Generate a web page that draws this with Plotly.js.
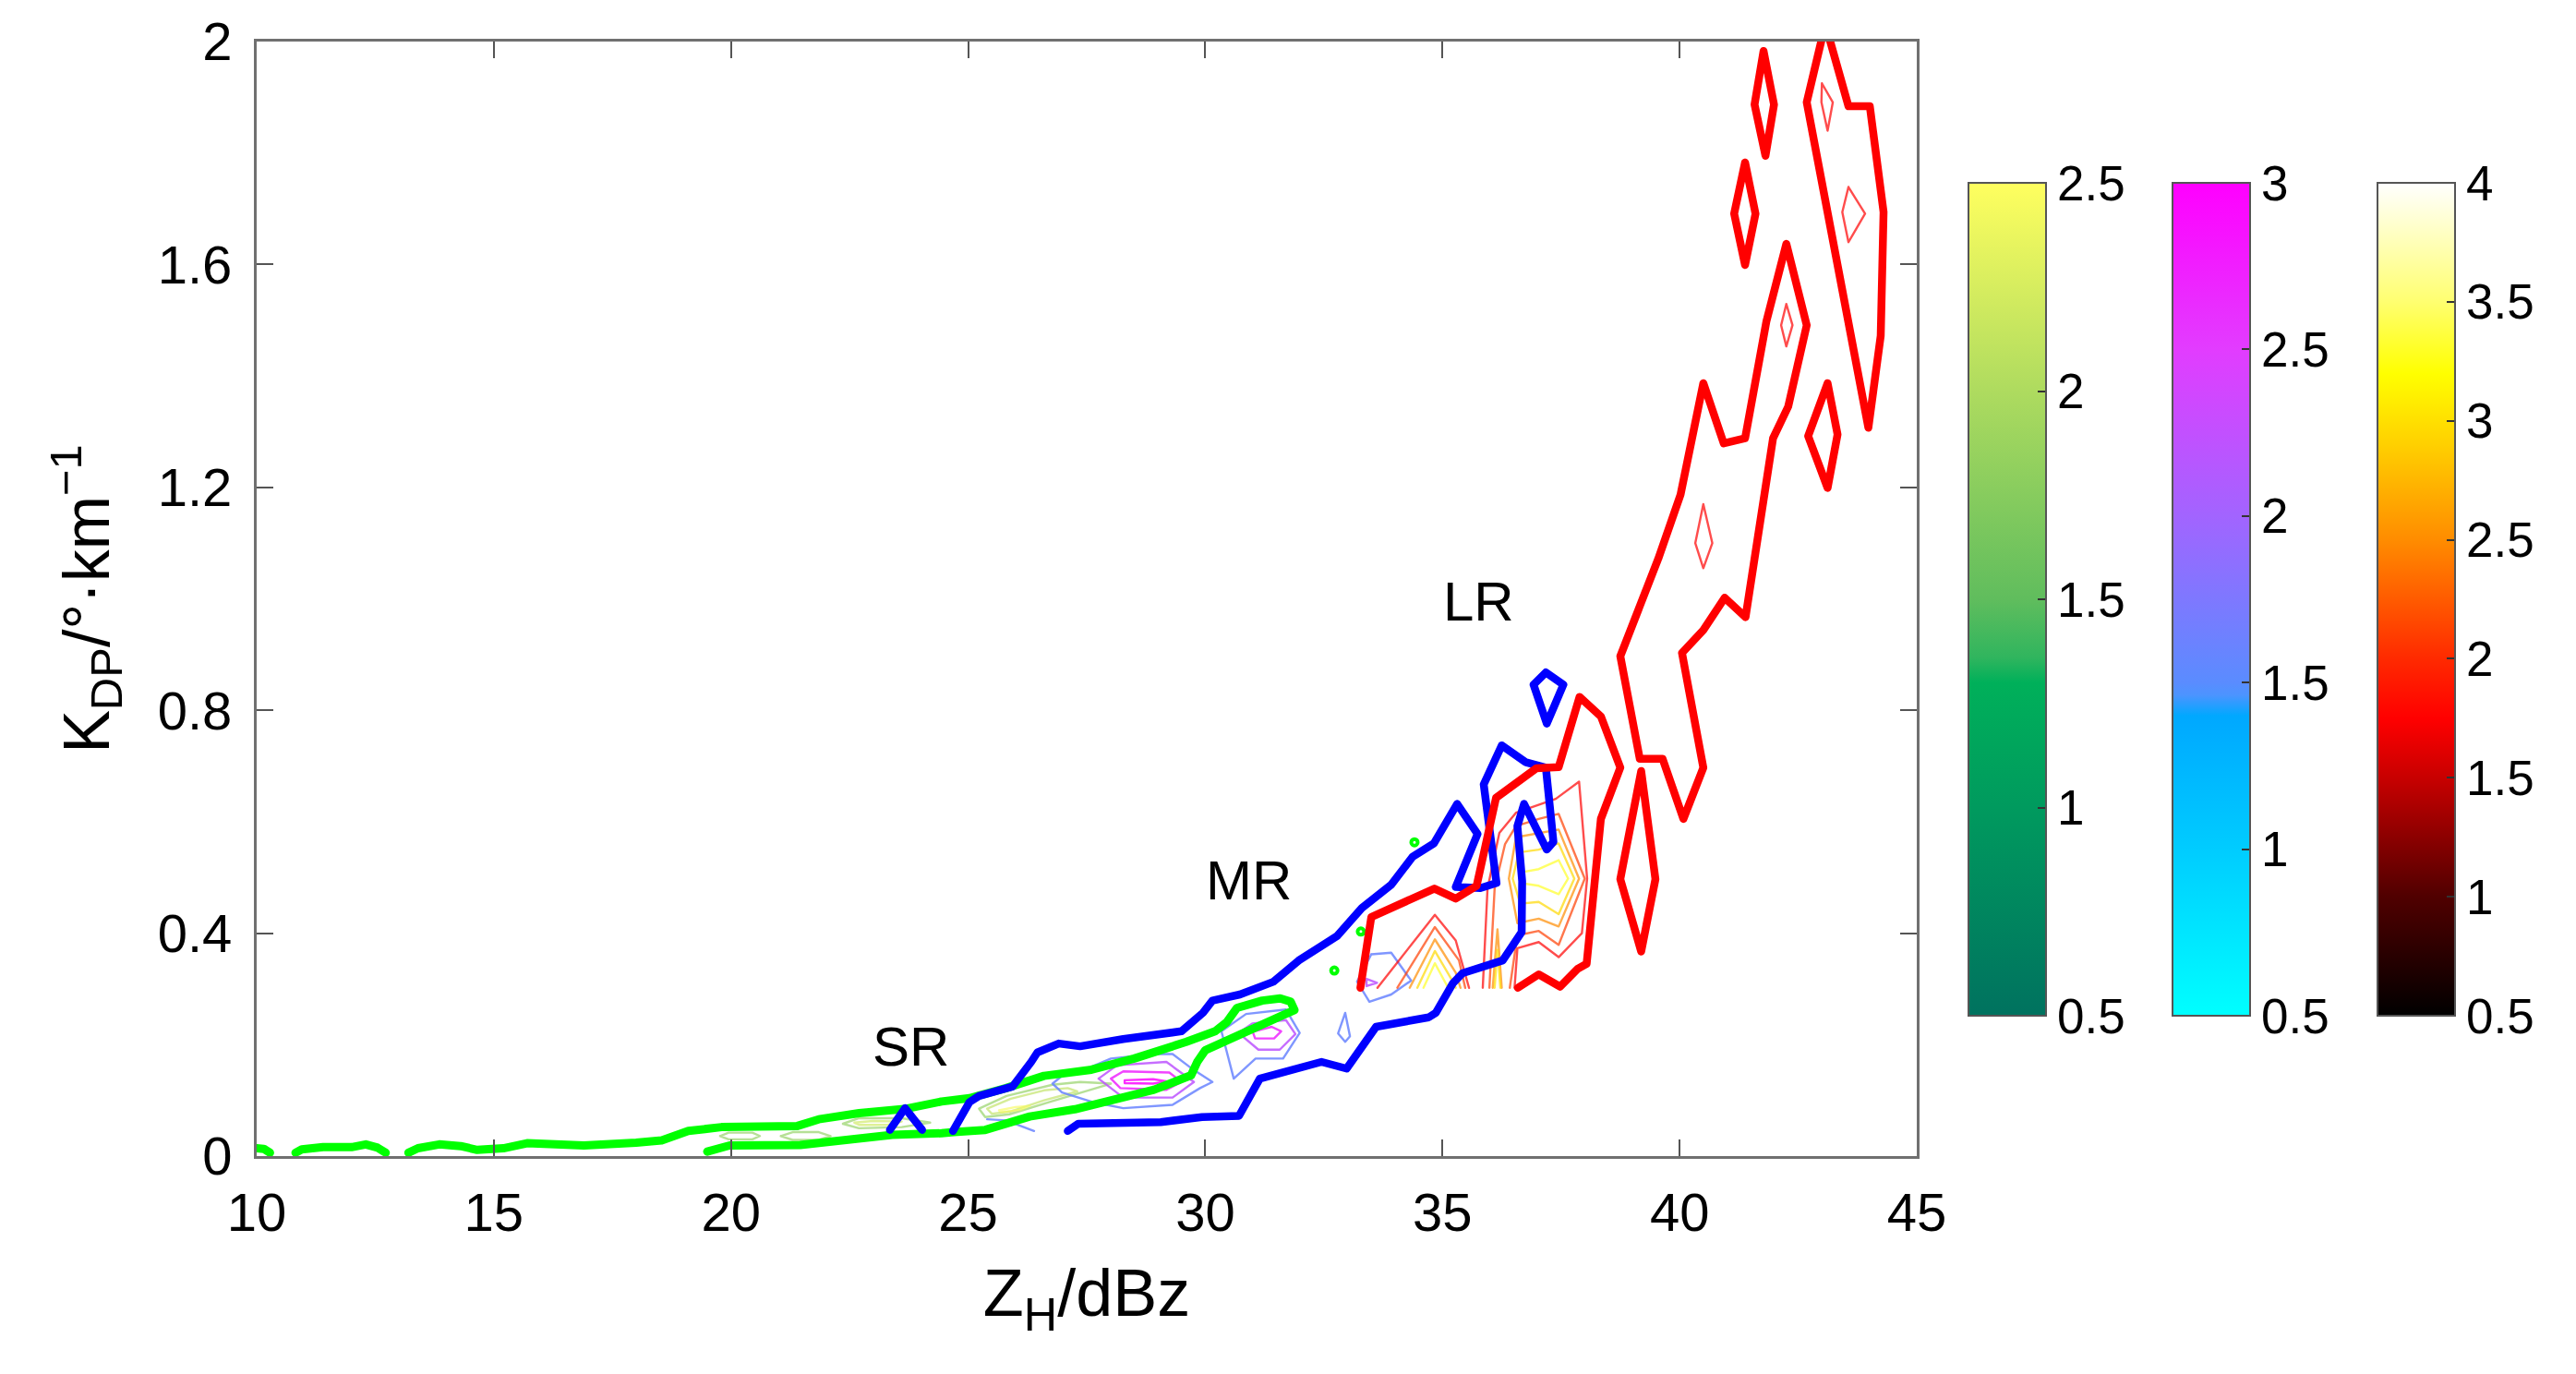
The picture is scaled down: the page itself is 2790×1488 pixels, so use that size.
<!DOCTYPE html>
<html>
<head>
<meta charset="utf-8">
<script src="https://cdn.plot.ly/plotly-3.0.1.min.js"></script>
<style>
html,body{margin:0;padding:0;background:#fff}
#chart{width:2790px;height:1488px}
#chart .js-line{stroke-linejoin:round;stroke-linecap:round}
</style>
</head>
<body>
<div id="chart"></div>
<script>
// ---------------- axes / ticks ----------------
const xTicks = [10, 15, 20, 25, 30, 35, 40, 45];
const yTicks = [0, 0.4, 0.8, 1.2, 1.6, 2];
const xRange = [10, 45];
const yRange = [0, 2];

// ---------------- colour bars ----------------
const cbSRTicks = [0.5, 1, 1.5, 2, 2.5];
const cbMRTicks = [0.5, 1, 1.5, 2, 2.5, 3];
const cbLRTicks = [0.5, 1, 1.5, 2, 2.5, 3, 3.5, 4];
const cbSRScale = [[0, '#00725f'], [0.25, '#009a5e'], [0.4, '#00b05a'], [0.43, '#30b55e'], [0.5, '#60bd5d'], [0.75, '#aedb5f'], [1, '#ffff5f']];
const cbMRScale = [[0, '#00ffff'], [0.2, '#00ccff'], [0.36, '#00a8ff'], [0.385, '#4c94ff'], [0.4, '#5a8cff'], [0.6, '#a264ff'], [0.8, '#e23cff'], [1, '#ff00ff']];
const cbLRScale = [[0, '#000000'], [0.143, '#500000'], [0.286, '#c80000'], [0.357, '#ff0000'], [0.429, '#ff2a00'], [0.571, '#ff8c00'], [0.686, '#ffd000'], [0.771, '#ffff00'], [0.857, '#ffff70'], [1, '#ffffff']];

// ---------------- SR (green) outer contour ----------------
const srOuter = [
  [10.0,0.014],[10.15,0.013],[10.28,0.006], null,
  [10.82,0.006],[10.95,0.012],[11.4,0.016],[12.0,0.016],[12.3,0.021],[12.55,0.015],[12.72,0.006], null,
  [13.2,0.006],[13.4,0.014],[13.85,0.021],[14.3,0.018],[14.65,0.011],[15.2,0.014],[15.7,0.023],[16.9,0.019],
  [18.0,0.024],[18.54,0.028],[19.1,0.045],[19.8,0.052],[21.4,0.054],[21.85,0.066],[22.7,0.077],[23.7,0.085],
  [24.44,0.098],[25.03,0.104],[25.8,0.122],[26.6,0.144],[27.6,0.155],[28.5,0.175],[29.6,0.205],[30.21,0.224],
  [30.45,0.24],[30.67,0.266],[31.2,0.279],[31.58,0.283],[31.8,0.277],[31.88,0.262],[31.67,0.254],[31.18,0.235],
  [30.73,0.219],[30.0,0.19],[29.83,0.169],[29.7,0.145],[28.92,0.119],[28.3,0.106],[27.25,0.084],[26.3,0.071],
  [25.5,0.053],[25.36,0.047],[24.7,0.043],[24.44,0.041],[23.4,0.038],[22.69,0.031],[22.1,0.023],[21.46,0.02],
  [19.97,0.019],[19.5,0.008]
];
const srDotsX = [32.72, 33.28, 34.41];
const srDotsY = [0.333, 0.403, 0.563];

// SR inner contours (green colour map)
const srS1 = [[19.77,0.036],[19.95,0.042],[20.45,0.042],[20.61,0.036],[20.45,0.030],[19.95,0.030],[19.77,0.036]];
const srS2 = [[21.05,0.036],[21.3,0.043],[21.85,0.043],[22.1,0.036],[21.85,0.029],[21.3,0.029],[21.05,0.036]];
const srS3 = [[22.36,0.058],[22.7,0.068],[23.6,0.068],[24.2,0.06],[23.6,0.052],[22.7,0.05],[22.36,0.058]];
const srS3b = [[22.6,0.06],[23.0,0.063],[23.6,0.062],[23.3,0.056],[22.7,0.056],[22.6,0.06]];
const srS4a = [[25.23,0.085],[25.81,0.108],[26.78,0.128],[27.36,0.133],[28.01,0.130],[27.49,0.117],[26.72,0.097],[25.87,0.075],[25.36,0.07],[25.23,0.085]];
const srS4b = [[25.4,0.085],[25.9,0.103],[26.6,0.118],[27.1,0.122],[27.3,0.116],[26.6,0.1],[25.9,0.08],[25.5,0.076],[25.4,0.085]];
const srS4c = [[25.65,0.082],[26.0,0.088],[26.3,0.09],[26.1,0.083],[25.7,0.079],[25.65,0.082]];
const srThinShapes = [srS1, srS2, srS3, srS3b, srS4a, srS4b, srS4c];
const srThinLevels = [1.8, 1.8, 1.8, 2.2, 1.8, 2.1, 2.45];

// ---------------- MR (blue) outer contour ----------------
const mrOuter = [
  [24.68,0.045],[25.03,0.097],[25.23,0.108],[25.94,0.125],[26.33,0.169],[26.46,0.186],[26.91,0.202],[27.36,0.197],
  [28.27,0.21],[28.85,0.216],[29.5,0.224],[29.95,0.257],[30.15,0.279],[30.73,0.29],[31.44,0.313],[31.97,0.351],
  [32.78,0.395],[33.3,0.445],[33.92,0.487],[34.37,0.537],[34.82,0.561],[35.31,0.632],[35.74,0.578],[35.28,0.483],
  [35.8,0.481],[36.14,0.49],[35.87,0.667],[36.25,0.737],[36.75,0.707],[37.18,0.697],[37.25,0.65],[37.34,0.564],
  [37.2,0.55],[36.72,0.632],[36.58,0.592],[36.68,0.493],[36.67,0.402],[36.27,0.351],[35.42,0.328],[35.22,0.31],
  [34.86,0.257],[34.71,0.249],[33.6,0.232],[33.49,0.219],[32.98,0.157],[32.45,0.169],[31.15,0.139],[30.71,0.072],
  [29.93,0.07],[29.06,0.061],[28.19,0.061],[27.32,0.058],[27.1,0.045]
];
const mrCaret = [[23.35,0.047],[23.67,0.086],[24.03,0.047]];
const mrDiamond = [[36.92,0.846],[37.18,0.868],[37.55,0.846],[37.2,0.776],[36.92,0.846]];

// MR inner contours (cyan-magenta colour map)
const mrB1 = [[26.78,0.130],[26.98,0.144],[27.62,0.161],[28.01,0.175],[28.92,0.183],[29.31,0.183],[29.7,0.158],[30.15,0.133],[29.89,0.122],[29.31,0.092],[28.27,0.086],[27.62,0.097],[26.98,0.114],[26.78,0.130]];
const mrP1 = [[27.75,0.139],[28.14,0.163],[29.18,0.169],[29.76,0.133],[29.31,0.105],[28.27,0.105],[27.75,0.139]];
const mrM1 = [[28.01,0.139],[28.27,0.152],[29.24,0.150],[29.5,0.133],[29.18,0.119],[28.21,0.122],[28.01,0.139]];
const mrM1b = [[28.3,0.136],[28.9,0.138],[29.2,0.134],[28.9,0.130],[28.3,0.131],[28.3,0.136]];
const mrB2 = [[30.34,0.224],[30.86,0.255],[31.7,0.263],[31.99,0.221],[31.64,0.175],[31.06,0.175],[30.6,0.139],[30.34,0.224]];
const mrP2 = [[30.7,0.221],[30.99,0.238],[31.7,0.244],[31.9,0.219],[31.57,0.191],[31.12,0.191],[30.7,0.221]];
const mrM2 = [[31.0,0.223],[31.4,0.232],[31.6,0.224],[31.45,0.211],[31.05,0.211],[31.0,0.223]];
const mrB3 = [[25.4,0.066],[25.8,0.064],[26.39,0.045]];
const mrB4 = [[32.95,0.257],[33.05,0.215],[32.95,0.205],[32.8,0.22],[32.95,0.257]];
const mrB5 = [[33.5,0.362],[33.92,0.365],[34.34,0.315],[33.92,0.29],[33.46,0.277],[33.2,0.313],[33.5,0.362]];
const mrP5 = [[33.40,0.318],[33.62,0.311],[33.40,0.305],[33.40,0.318]];
const mrThinShapes = [mrB1, mrP1, mrM1, mrM1b, mrB2, mrP2, mrM2, mrB3, mrB4, mrB5, mrP5];
const mrThinLevels = [1.6, 2.2, 2.7, 2.95, 1.6, 2.2, 2.7, 1.6, 1.6, 1.6, 2.2];

// ---------------- LR (red) outer contours ----------------
const lrPart1 = [[33.27,0.302],[33.5,0.429],[34.83,0.48],[35.28,0.462],[35.72,0.485],[36.13,0.643],[36.98,0.696],[37.45,0.698],[37.89,0.824],[38.34,0.789],[38.75,0.697],[38.34,0.605],[38.04,0.345],[37.85,0.336],[37.48,0.304],[37.03,0.326],[36.59,0.302]];
const lrPart2 = [[38.75,0.897],[39.55,1.072],[40.02,1.187],[40.5,1.387],[40.93,1.279],[41.38,1.288],[41.83,1.498],[42.25,1.637],[42.68,1.491],[42.29,1.345],[41.97,1.288],[41.39,0.967],[40.95,1.002],[40.5,0.944],[40.05,0.903],[40.5,0.697],[40.08,0.605],[39.64,0.713],[39.16,0.713],[38.75,0.897]];
const lrPart3 = [[43.04,2.02],[42.68,1.891],[43.98,1.307],[44.24,1.472],[44.3,1.694],[44.01,1.884],[43.56,1.884],[43.11,2.02]];
const lrPart4 = [[39.19,0.691],[39.49,0.497],[39.19,0.367],[38.75,0.497],[39.19,0.691]];
const lrPart5 = [[41.77,1.983],[41.99,1.887],[41.81,1.795],[41.58,1.887],[41.77,1.983]];
const lrPart6 = [[41.38,1.783],[41.6,1.691],[41.38,1.599],[41.15,1.691],[41.38,1.783]];
const lrPart7 = [[43.12,1.387],[43.33,1.295],[43.12,1.199],[42.71,1.292],[43.12,1.387]];
const lrOuterShapes = [lrPart1, lrPart2, lrPart3, lrPart4, lrPart5, lrPart6, lrPart7];

// LR inner contours (hot colour map)
const lrA1 = [[33.63,0.302],[34.84,0.433],[35.28,0.387],[35.56,0.302]];
const lrA2 = [[34.05,0.302],[34.84,0.411],[35.35,0.351],[35.48,0.302]];
const lrA3 = [[34.31,0.302],[34.84,0.389],[35.28,0.329],[35.38,0.302]];
const lrA4 = [[34.47,0.302],[34.84,0.368],[35.22,0.313],[35.28,0.302]];
const lrA5 = [[34.60,0.302],[34.84,0.346],[35.12,0.302]];
const lrR3 = [[35.85,0.302],[35.95,0.48],[36.20,0.58],[36.55,0.616],[37.39,0.641],[37.88,0.672],[38.05,0.498],[37.94,0.40],[37.45,0.357],[37.03,0.384],[36.58,0.373],[36.52,0.302]];
const lrR2 = [[35.99,0.302],[36.10,0.48],[36.32,0.56],[36.55,0.592],[37.03,0.605],[37.45,0.614],[38.0,0.498],[37.45,0.379],[37.03,0.404],[36.58,0.396],[36.42,0.302]];
const lrO1 = [[36.55,0.572],[37.03,0.580],[37.45,0.586],[37.88,0.498],[37.45,0.412],[37.03,0.426],[36.58,0.418],[36.40,0.498],[36.55,0.572]];
const lrY2 = [[36.61,0.545],[37.03,0.550],[37.45,0.561],[37.78,0.498],[37.45,0.434],[37.03,0.456],[36.64,0.453],[36.48,0.498],[36.61,0.545]];
const lrY1 = [[36.64,0.509],[37.03,0.515],[37.45,0.531],[37.65,0.498],[37.45,0.470],[37.03,0.485],[36.64,0.490],[36.64,0.509]];
const lrSpikeO = [[36.06,0.302],[36.16,0.407],[36.25,0.302]];
const lrSpikeY = [[36.10,0.302],[36.16,0.37],[36.22,0.302]];
const lrT1 = [[43.0,1.925],[43.23,1.891],[43.12,1.84],[42.99,1.891],[43.0,1.925]];
const lrT2 = [[43.56,1.739],[43.91,1.691],[43.56,1.64],[43.43,1.694],[43.56,1.739]];
const lrT3 = [[42.25,1.529],[42.38,1.491],[42.25,1.453],[42.14,1.491],[42.25,1.529]];
const lrT4 = [[40.5,1.17],[40.69,1.1],[40.5,1.055],[40.33,1.1],[40.5,1.17]];
const lrThinShapes = [lrA1, lrA2, lrA3, lrA4, lrA5, lrR3, lrR2, lrO1, lrY2, lrY1, lrSpikeO, lrSpikeY, lrT1, lrT2, lrT3, lrT4];
const lrThinLevels = [1.75, 2.1, 2.5, 2.95, 3.3, 1.75, 2.1, 2.5, 2.95, 3.3, 2.5, 3.0, 1.75, 1.75, 1.75, 1.75];

// ---------------- labels ----------------
const regionNames = ['SR', 'MR', 'LR'];
const regionLabelX = [23.8, 30.92, 35.77];
const regionLabelY = [0.197, 0.495, 0.995];

// ---------------- helpers ----------------
const FONT = 'Liberation Sans, Arial, Helvetica, sans-serif';
function hex2rgb(h) { const n = parseInt(h.slice(1), 16); return [(n >> 16) & 255, (n >> 8) & 255, n & 255]; }
function colorAt(scale, cmin, cmax, v) {
  const t = Math.max(0, Math.min(1, (v - cmin) / (cmax - cmin)));
  for (let i = 1; i < scale.length; i++) {
    if (t <= scale[i][0]) {
      const a = scale[i - 1], b = scale[i];
      const f = (t - a[0]) / (b[0] - a[0] || 1);
      const ca = hex2rgb(a[1]), cb = hex2rgb(b[1]);
      return 'rgb(' + ca.map((c, k) => Math.round(c + (cb[k] - c) * f)).join(',') + ')';
    }
  }
  return scale[scale.length - 1][1];
}
function lineTrace(pts, color, width, opacity) {
  return {
    type: 'scatter', mode: 'lines',
    x: pts.map(p => p ? p[0] : null), y: pts.map(p => p ? p[1] : null),
    line: { color: color, width: width }, opacity: opacity === undefined ? 1 : opacity,
    connectgaps: false, hoverinfo: 'skip', showlegend: false
  };
}
function cbTrace(scale, cmin, cmax, ticks, xPos) {
  return {
    type: 'scatter', mode: 'markers', x: [null, null], y: [null, null],
    hoverinfo: 'skip', showlegend: false,
    marker: {
      color: [cmin, cmax], cmin: cmin, cmax: cmax, colorscale: scale, showscale: true, size: 1,
      colorbar: {
        x: xPos, xanchor: 'left', xpad: 0, ypad: 0,
        y: 0.1259, yanchor: 'bottom', len: 0.7473, lenmode: 'fraction',
        thickness: 84, thicknessmode: 'pixels',
        outlinewidth: 2, outlinecolor: '#555',
        tickvals: ticks, ticks: 'inside', ticklen: 10, tickwidth: 2, tickcolor: '#333',
        ticklabelstandoff: 4,
        tickfont: { family: FONT, size: 53, color: '#000' }
      }
    }
  };
}

// ---------------- traces ----------------
const traces = [];
const thinW = 2.4;
srThinShapes.forEach((s, i) => traces.push(lineTrace(s, colorAt(cbSRScale, 0.5, 2.5, srThinLevels[i]), thinW, 0.65)));
mrThinShapes.forEach((s, i) => traces.push(lineTrace(s, colorAt(cbMRScale, 0.5, 3, mrThinLevels[i]), thinW, 0.85)));
lrThinShapes.forEach((s, i) => traces.push(lineTrace(s, colorAt(cbLRScale, 0.5, 4, lrThinLevels[i]), thinW, 0.7)));

traces.push(lineTrace(srOuter, '#00ff00', 9));
traces.push({
  type: 'scatter', mode: 'markers', x: srDotsX, y: srDotsY, hoverinfo: 'skip', showlegend: false,
  marker: { symbol: 'circle-open', size: 7, color: '#00ff00', line: { width: 4, color: '#00ff00' } }
});
traces.push(lineTrace(mrOuter, '#0000ff', 8.5));
traces.push(lineTrace(mrCaret, '#0000ff', 8.5));
traces.push(lineTrace(mrDiamond, '#0000ff', 8.5));
lrOuterShapes.forEach(s => traces.push(lineTrace(s, '#ff0000', 8.5)));

traces.push(cbTrace(cbSRScale, 0.5, 2.5, cbSRTicks, 1.031));
traces.push(cbTrace(cbMRScale, 0.5, 3, cbMRTicks, 1.1541));
traces.push(cbTrace(cbLRScale, 0.5, 4, cbLRTicks, 1.2773));

const axisCommon = {
  ticks: 'inside', ticklen: 18, tickwidth: 2, tickcolor: '#555',
  showline: true, linecolor: '#707070', linewidth: 3, mirror: 'ticks',
  showgrid: false, zeroline: false, fixedrange: true,
  tickfont: { family: FONT, size: 58, color: '#000' }
};

const layout = {
  width: 2790, height: 1488,
  margin: { l: 278, r: 714, t: 45, b: 236, pad: 0 },
  paper_bgcolor: '#ffffff', plot_bgcolor: '#ffffff',
  font: { family: FONT, size: 58, color: '#000' },
  showlegend: false,
  xaxis: Object.assign({}, axisCommon, {
    range: xRange, tickvals: xTicks, ticklabelstandoff: 8,
    title: { text: 'Z<sub>H</sub>/dBz', font: { family: FONT, size: 72, color: '#000' }, standoff: 32 }
  }),
  yaxis: Object.assign({}, axisCommon, {
    range: yRange, tickvals: yTicks, ticklabelstandoff: 12,
    title: { text: 'K<sub>DP</sub>/°·km<sup>−1</sup>', font: { family: FONT, size: 70, color: '#000' }, standoff: 30 }
  }),
  annotations: regionNames.map((t, i) => ({
    x: regionLabelX[i], y: regionLabelY[i], xref: 'x', yref: 'y', text: t, showarrow: false,
    font: { family: FONT, size: 60, color: '#000' }, xanchor: 'center', yanchor: 'middle'
  }))
};

Plotly.newPlot('chart', traces, layout, { staticPlot: true, displayModeBar: false });
</script>
</body>
</html>
